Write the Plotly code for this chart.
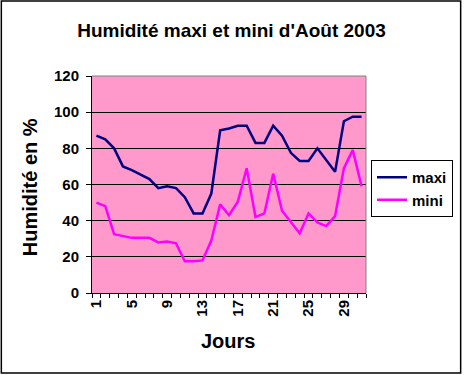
import plotly.graph_objects as go

days = list(range(1, 32))
maxi = [87, 85, 80, 70, 68, 65.5, 63, 58, 59, 58, 53, 44, 44, 55, 90, 91,
        92.5, 92.5, 83, 83, 92.5, 87, 77.5, 73, 73, 80, 73.5, 67, 95, 97.5, 97.5]
mini = [50, 48, 32.5, 31.5, 30.5, 30.5, 30.5, 28, 28.5, 27.5, 17.5, 17.5, 18, 29,
        49, 43, 50.5, 69, 42, 44, 66, 45.5, 39, 33, 44, 39, 37, 42.5, 69, 79, 59]
xtick_vals = [1, 5, 9, 13, 17, 21, 25, 29]
ytick_vals = [0, 20, 40, 60, 80, 100, 120]

FONT = "Liberation Sans, Arial, sans-serif"
L, R, T, B = 92, 97, 76, 82
W, H = 464, 375
pw, ph = W - L - R, H - T - B

fig = go.Figure()
fig.add_trace(go.Scatter(x=days, y=maxi, mode="lines", name="maxi",
                         line=dict(color="#000080", width=2.5)))
fig.add_trace(go.Scatter(x=days, y=mini, mode="lines", name="mini",
                         line=dict(color="#FF00FF", width=2.5)))

fig.update_layout(
    width=W, height=H, autosize=False,
    margin=dict(l=L, r=R, t=T, b=B, pad=0),
    paper_bgcolor="white", plot_bgcolor="#FF99CC",
    font=dict(family=FONT, color="black", weight="bold"),
    title=dict(text="Humidité maxi et mini d'Août 2003",
               font=dict(size=19, family=FONT, color="black", weight="bold"),
               x=(231.5) / W, xanchor="center", xref="container",
               y=1 - 30 / H, yanchor="middle", yref="container"),
    showlegend=True,
    legend=dict(x=(453 - L) / pw, xanchor="right", y=(H - B - 160) / ph, yanchor="top",
                bgcolor="white", bordercolor="black", borderwidth=1,
                font=dict(size=15, family=FONT, color="black", weight="bold"),
                itemwidth=30, tracegroupgap=0),
    xaxis=dict(range=[0.5, 31.5], tickmode="array", tickvals=xtick_vals,
               tickangle=-90,
               ticks="", showgrid=False, zeroline=False,
               showline=True, linecolor="black", linewidth=1,
               tickfont=dict(size=15, family=FONT, color="black", weight="bold"),
               minor=dict(tickmode="linear", tick0=0.5, dtick=1, ticks="outside",
                          ticklen=4, tickcolor="black", showgrid=False),
               fixedrange=True),
    yaxis=dict(range=[0, 120], tickmode="array", tickvals=ytick_vals,
               ticks="outside", ticklen=5, tickcolor="black",
               showgrid=True, gridcolor="black", gridwidth=1, zeroline=False,
               showline=True, linecolor="black", linewidth=1,
               tickfont=dict(size=15, family=FONT, color="black", weight="bold"),
               ticklabelstandoff=4, fixedrange=True),
)

# axis titles
fig.add_annotation(text="Jours", xref="paper", yref="paper",
                   x=(228 - L) / pw, y=(H - B - 341) / ph, xanchor="center", yanchor="middle",
                   showarrow=False, font=dict(size=20, family=FONT, color="black", weight="bold"))
fig.add_annotation(text="Humidité en %", xref="paper", yref="paper",
                   x=(30 - L) / pw, y=(H - B - 187) / ph, xanchor="center", yanchor="middle",
                   textangle=-90, showarrow=False,
                   font=dict(size=20, family=FONT, color="black", weight="bold"))

# plot area border (gray top/right)
fig.add_shape(type="line", xref="paper", yref="paper", x0=0, x1=1, y0=1, y1=1,
              line=dict(color="#808080", width=1), layer="above")
fig.add_shape(type="line", xref="paper", yref="paper", x0=1, x1=1, y0=0, y1=1,
              line=dict(color="#808080", width=1), layer="above")
# chart border
fig.add_shape(type="rect", xref="paper", yref="paper",
              x0=(1 - L) / pw, x1=(462 - L) / pw,
              y0=(H - B - 373) / ph, y1=(H - B - 1) / ph,
              line=dict(color="black", width=1.5), fillcolor="rgba(0,0,0,0)", layer="above")

fig.write_html("out.html")
